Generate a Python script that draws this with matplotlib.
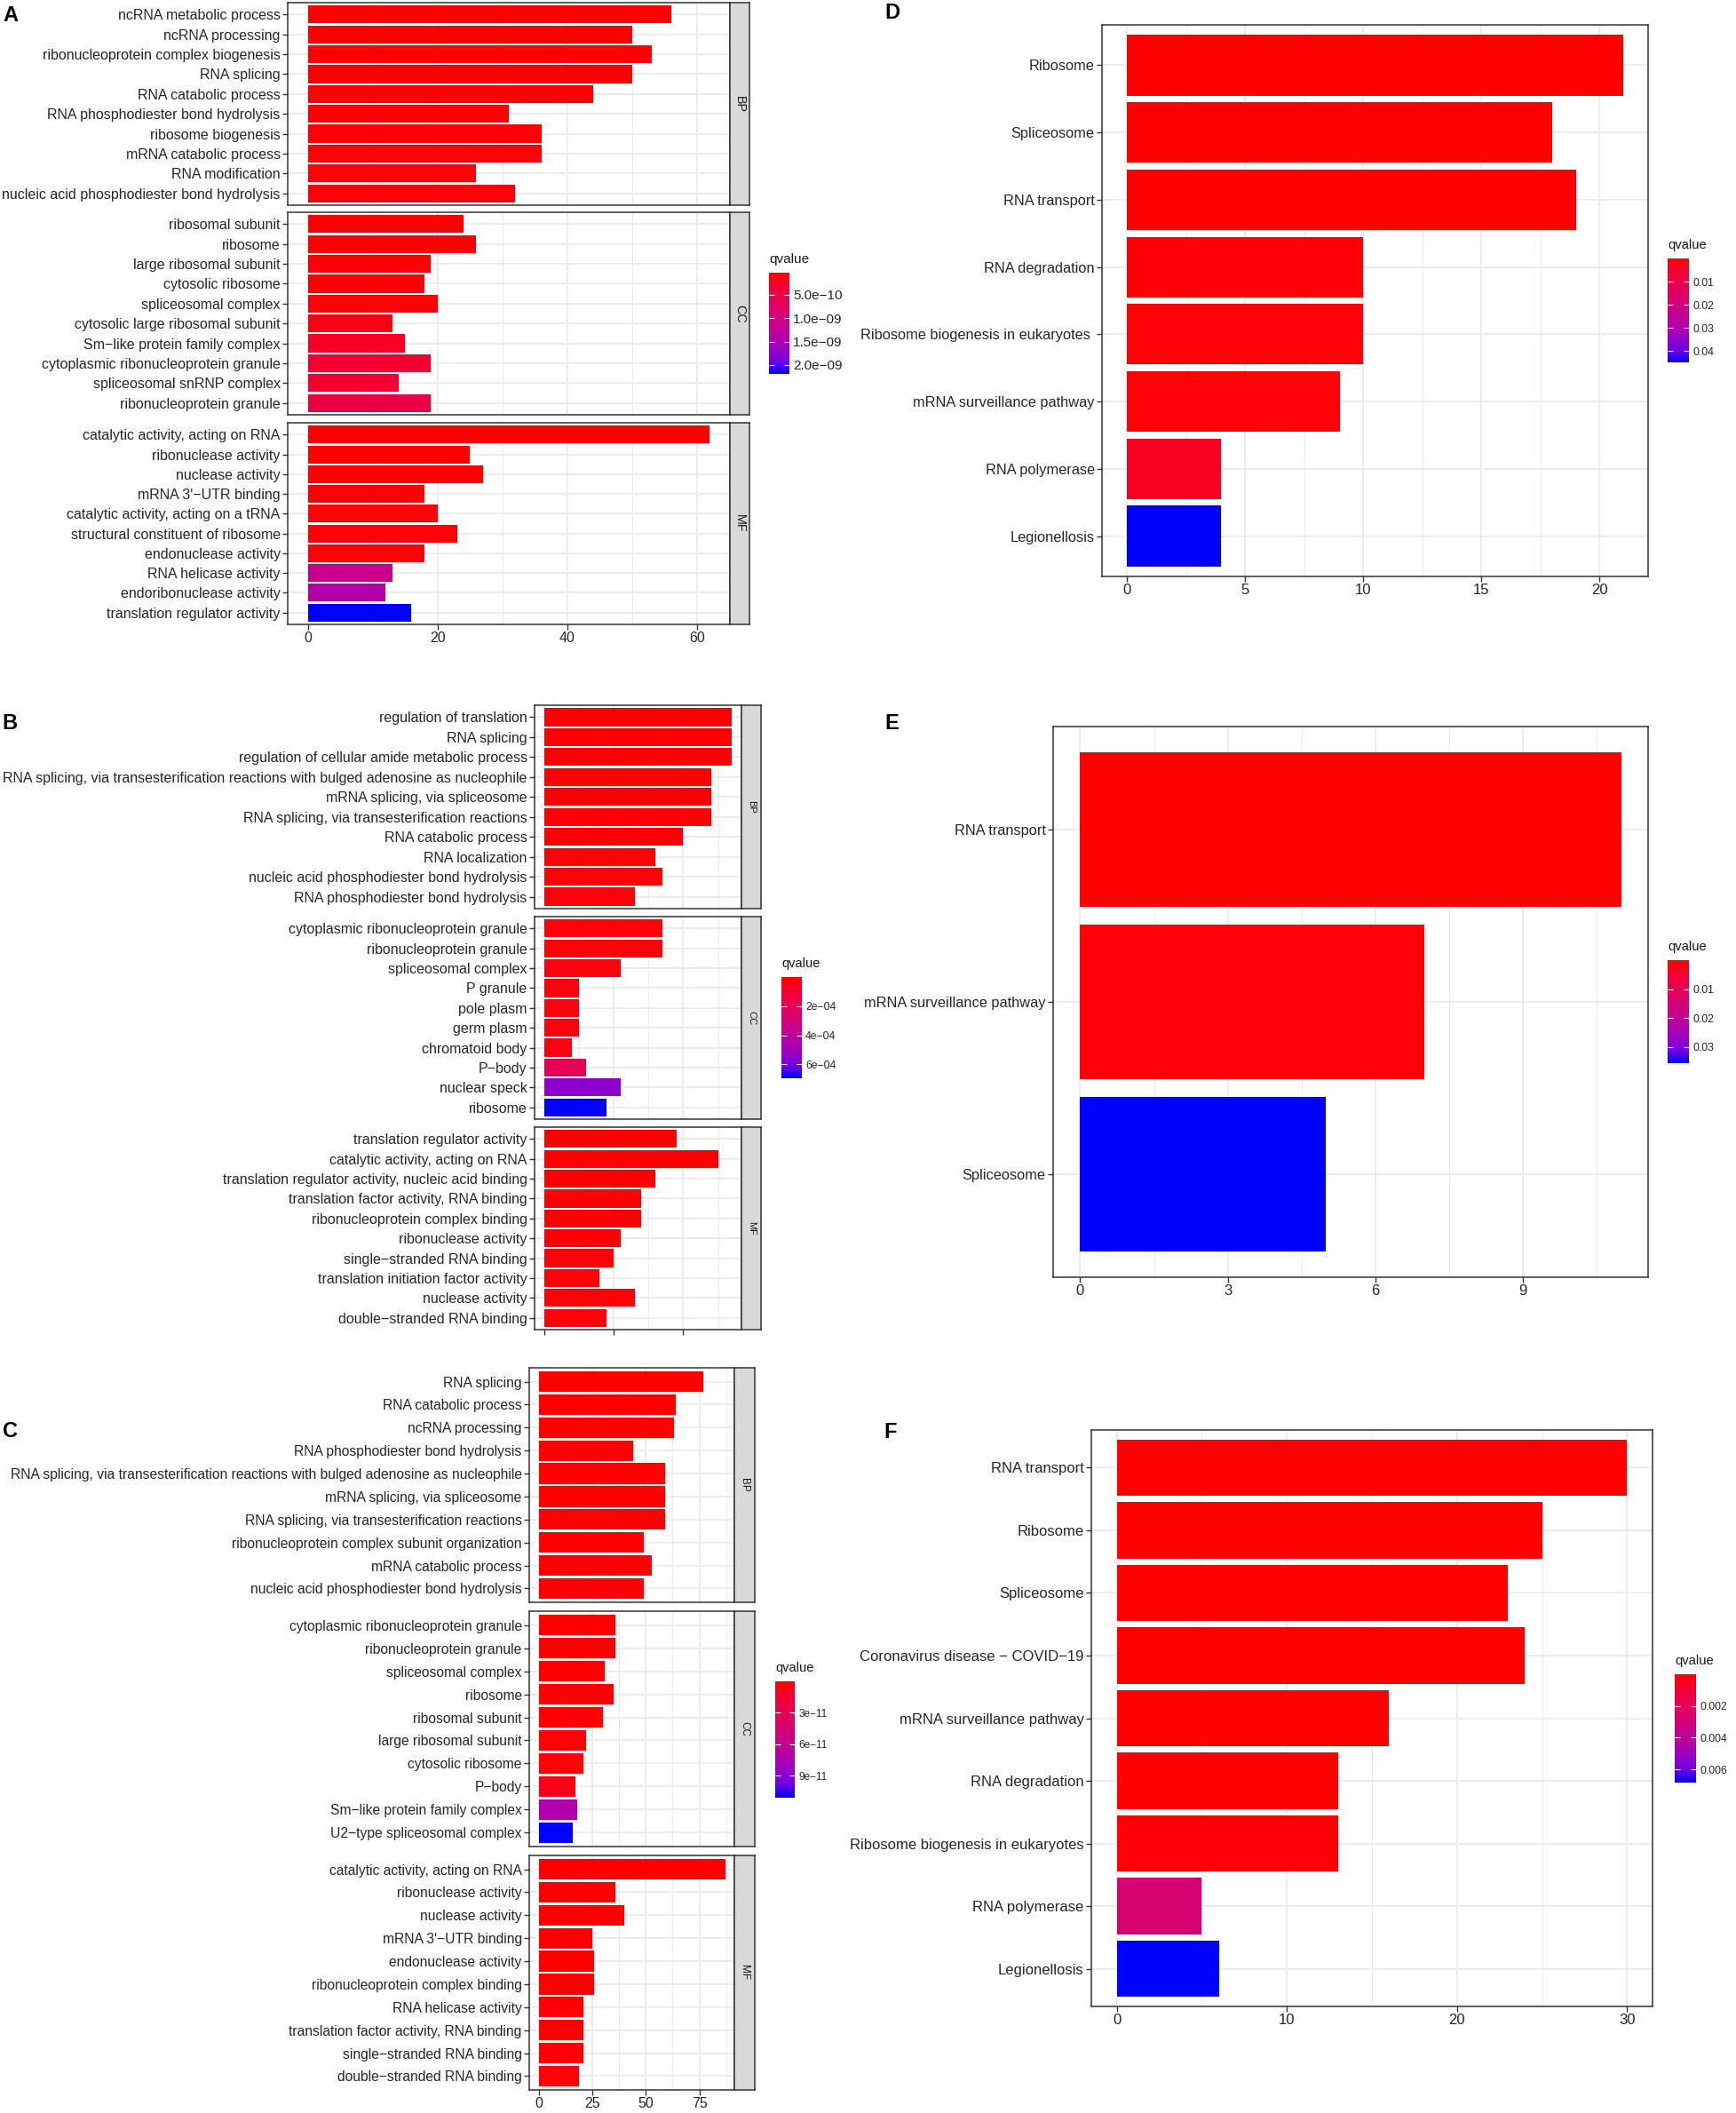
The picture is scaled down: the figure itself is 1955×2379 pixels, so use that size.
import numpy as np
import matplotlib
matplotlib.use("Agg")
import matplotlib.pyplot as plt
from matplotlib.colors import LinearSegmentedColormap, Normalize
from matplotlib.colorbar import ColorbarBase

plt.rcParams['font.family'] = ['Liberation Sans', 'DejaVu Sans']

W, H = 1955, 2379
M = '\u2212'

# === A: GO enrichment ===
a_bp_terms = ["ncRNA metabolic process", "ncRNA processing", "ribonucleoprotein complex biogenesis",
              "RNA splicing", "RNA catabolic process", "RNA phosphodiester bond hydrolysis",
              "ribosome biogenesis", "mRNA catabolic process", "RNA modification",
              "nucleic acid phosphodiester bond hydrolysis"]
a_bp_counts = [56, 50, 53, 50, 44, 31, 36, 36, 26, 32]
a_bp_q = [3e-11, 3.2e-11, 3.5e-11, 4e-11, 4.5e-11, 5e-11, 5e-11, 6e-11, 7e-11, 8e-11]
a_cc_terms = ["ribosomal subunit", "ribosome", "large ribosomal subunit", "cytosolic ribosome",
              "spliceosomal complex", "cytosolic large ribosomal subunit",
              f"Sm{M}like protein family complex", "cytoplasmic ribonucleoprotein granule",
              "spliceosomal snRNP complex", "ribonucleoprotein granule"]
a_cc_counts = [24, 26, 19, 18, 20, 13, 15, 19, 14, 19]
a_cc_q = [4e-11, 4e-11, 5e-11, 5e-11, 6e-11, 1.4e-10, 2.4e-10, 2.9e-10, 2.9e-10, 4.8e-10]
a_mf_terms = ["catalytic activity, acting on RNA", "ribonuclease activity", "nuclease activity",
              f"mRNA 3'{M}UTR binding", "catalytic activity, acting on a tRNA",
              "structural constituent of ribosome", "endonuclease activity", "RNA helicase activity",
              "endoribonuclease activity", "translation regulator activity"]
a_mf_counts = [62, 25, 27, 18, 20, 23, 18, 13, 12, 16]
a_mf_q = [2.8e-11, 3e-11, 4e-11, 5e-11, 6e-11, 6e-11, 7e-11, 1.15e-9, 1.41e-9, 2.19e-9]
a_xticks = [0, 20, 40, 60]
a_cb_ticks = [5e-10, 1e-9, 1.5e-9, 2e-9]
a_cb_labels = [f"5.0e{M}10", f"1.0e{M}09", f"1.5e{M}09", f"2.0e{M}09"]

# === B ===
b_bp_terms = ["regulation of translation", "RNA splicing", "regulation of cellular amide metabolic process",
              "RNA splicing, via transesterification reactions with bulged adenosine as nucleophile",
              "mRNA splicing, via spliceosome", "RNA splicing, via transesterification reactions",
              "RNA catabolic process", "RNA localization", "nucleic acid phosphodiester bond hydrolysis",
              "RNA phosphodiester bond hydrolysis"]
b_bp_counts = [27, 27, 27, 24, 24, 24, 20, 16, 17, 13]
b_bp_q = [2e-6, 1e-6, 3e-6, 5e-6, 6e-6, 7e-6, 8e-6, 1e-5, 1.2e-5, 1.5e-5]
b_cc_terms = ["cytoplasmic ribonucleoprotein granule", "ribonucleoprotein granule", "spliceosomal complex",
              "P granule", "pole plasm", "germ plasm", "chromatoid body", f"P{M}body", "nuclear speck",
              "ribosome"]
b_cc_counts = [17, 17, 11, 5, 5, 5, 4, 6, 11, 9]
b_cc_q = [1e-5, 1.2e-5, 2e-5, 2.5e-5, 2.5e-5, 2.5e-5, 3e-5, 1.9e-4, 5.5e-4, 6.95e-4]
b_mf_terms = ["translation regulator activity", "catalytic activity, acting on RNA",
              "translation regulator activity, nucleic acid binding", "translation factor activity, RNA binding",
              "ribonucleoprotein complex binding", "ribonuclease activity", f"single{M}stranded RNA binding",
              "translation initiation factor activity", "nuclease activity", f"double{M}stranded RNA binding"]
b_mf_counts = [19, 25, 16, 14, 14, 11, 10, 8, 13, 9]
b_mf_q = [3e-6, 4e-6, 5e-6, 6e-6, 7e-6, 9e-6, 1e-5, 1.2e-5, 1.4e-5, 1.6e-5]
b_xticks = [0, 10, 20]
b_cb_ticks = [2e-4, 4e-4, 6e-4]
b_cb_labels = [f"2e{M}04", f"4e{M}04", f"6e{M}04"]

# === C ===
c_bp_terms = ["RNA splicing", "RNA catabolic process", "ncRNA processing", "RNA phosphodiester bond hydrolysis",
              "RNA splicing, via transesterification reactions with bulged adenosine as nucleophile",
              "mRNA splicing, via spliceosome", "RNA splicing, via transesterification reactions",
              "ribonucleoprotein complex subunit organization", "mRNA catabolic process",
              "nucleic acid phosphodiester bond hydrolysis"]
c_bp_counts = [77, 64, 63, 44, 59, 59, 59, 49, 53, 49]
c_bp_q = [1e-13, 2e-13, 3e-13, 4e-13, 5e-13, 6e-13, 7e-13, 8e-13, 9e-13, 1e-12]
c_cc_terms = ["cytoplasmic ribonucleoprotein granule", "ribonucleoprotein granule", "spliceosomal complex",
              "ribosome", "ribosomal subunit", "large ribosomal subunit", "cytosolic ribosome", f"P{M}body",
              f"Sm{M}like protein family complex", f"U2{M}type spliceosomal complex"]
c_cc_counts = [36, 36, 31, 35, 30, 22, 21, 17, 18, 16]
c_cc_q = [5e-13, 6e-13, 8e-13, 1e-12, 1.2e-12, 1.5e-12, 1.8e-12, 7e-12, 7.2e-11, 1.108e-10]
c_mf_terms = ["catalytic activity, acting on RNA", "ribonuclease activity", "nuclease activity",
              f"mRNA 3'{M}UTR binding", "endonuclease activity", "ribonucleoprotein complex binding",
              "RNA helicase activity", "translation factor activity, RNA binding",
              f"single{M}stranded RNA binding", f"double{M}stranded RNA binding"]
c_mf_counts = [87, 36, 40, 25, 26, 26, 21, 21, 21, 19]
c_mf_q = [2e-13, 3e-13, 4e-13, 6e-13, 7e-13, 8e-13, 1e-12, 1.1e-12, 1.2e-12, 1.4e-12]
c_xticks = [0, 25, 50, 75]
c_cb_ticks = [3e-11, 6e-11, 9e-11]
c_cb_labels = [f"3e{M}11", f"6e{M}11", f"9e{M}11"]

# === D, E, F: KEGG ===
d_terms = ["Ribosome", "Spliceosome", "RNA transport", "RNA degradation",
           "Ribosome biogenesis in eukaryotes ", "mRNA surveillance pathway", "RNA polymerase", "Legionellosis"]
d_counts = [21, 18, 19, 10, 10, 9, 4, 4]
d_q = [1e-5, 2e-5, 3e-5, 5e-4, 6e-4, 8e-4, 3.6e-3, 0.0449]
d_xticks = [0, 5, 10, 15, 20]
d_cb_ticks = [0.01, 0.02, 0.03, 0.04]
d_cb_labels = ["0.01", "0.02", "0.03", "0.04"]

e_terms = ["RNA transport", "mRNA surveillance pathway", "Spliceosome"]
e_counts = [11, 7, 5]
e_q = [1e-5, 5e-4, 0.0356]
e_xticks = [0, 3, 6, 9]
e_cb_ticks = [0.01, 0.02, 0.03]
e_cb_labels = ["0.01", "0.02", "0.03"]

f_terms = ["RNA transport", "Ribosome", "Spliceosome", f"Coronavirus disease {M} COVID{M}19",
           "mRNA surveillance pathway", "RNA degradation", "Ribosome biogenesis in eukaryotes",
           "RNA polymerase", "Legionellosis"]
f_counts = [30, 25, 23, 24, 16, 13, 13, 5, 6]
f_q = [1e-6, 2e-6, 3e-6, 5e-6, 1e-5, 5e-5, 6e-5, 2.7e-3, 6.83e-3]
f_xticks = [0, 10, 20, 30]
f_cb_ticks = [0.002, 0.004, 0.006]
f_cb_labels = ["0.002", "0.004", "0.006"]

# ggplot-like red -> blue gradient (Lab interpolation)
CMAP = LinearSegmentedColormap.from_list("rb", [
    (0.0, "#FF0000"), (0.125, "#F40031"), (0.25, "#E8004F"), (0.375, "#DA006C"),
    (0.5, "#C90088"), (0.625, "#B500A5"), (0.75, "#9A00C3"), (0.875, "#7300E0"), (1.0, "#0000FF")])

TXT = "#262626"
GRID = "#EBEBEB"
DARK = "#333333"

fig = plt.figure(figsize=(W / 100, H / 100), dpi=100)


def rect(x0, y0, x1, y1):
    return [x0 / W, 1 - y1 / H, (x1 - x0) / W, (y1 - y0) / H]


def bars(ax, terms, counts, q, norm, xmax, xticks, fs, bottom=True, xlabels=True, tfs=11.5):
    n = len(terms)
    ypos = np.arange(n, 0, -1)
    ax.barh(ypos, counts, height=0.9, color=CMAP(norm(np.array(q))), zorder=3)
    ax.set_ylim(0.4, n + 0.6)
    ax.set_xlim(-0.05 * xmax, 1.05 * xmax)
    ax.set_yticks(ypos)
    ax.set_yticklabels(terms, fontsize=fs, color=TXT)
    step = xticks[1] - xticks[0]
    minor = [v for v in np.arange(xticks[0] - step / 2, 1.05 * xmax, step) if v > -0.05 * xmax]
    ax.set_xticks(xticks)
    ax.set_xticks(minor, minor=True)
    ax.grid(which="major", color=GRID, lw=1.3, zorder=0)
    ax.grid(which="minor", axis="x", color=GRID, lw=0.7, zorder=0)
    ax.set_axisbelow(True)
    for s in ax.spines.values():
        s.set_color(DARK)
        s.set_linewidth(1.1)
    ax.tick_params(axis="y", which="major", length=4, width=1, color=DARK, pad=2)
    ax.tick_params(which="minor", length=0)
    if bottom:
        ax.tick_params(axis="x", which="major", length=4, width=1, color=DARK, pad=2,
                       labelsize=tfs, labelcolor=TXT, labelbottom=xlabels)
    else:
        ax.tick_params(axis="x", which="major", length=0, labelbottom=False)


def strip(x0, y0, x1, y1, label, fs):
    sa = fig.add_axes(rect(x0, y0, x1, y1))
    sa.set_facecolor("#D9D9D9")
    sa.set_xticks([])
    sa.set_yticks([])
    for s in sa.spines.values():
        s.set_color(DARK)
        s.set_linewidth(1.1)
    sa.text(0.5, 0.5, label, rotation=-90, ha="center", va="center", fontsize=fs,
            color="#1A1A1A", transform=sa.transAxes)


def colorbar(x0, y0, x1, y1, norm, ticks, labels, fs, tfs):
    cax = fig.add_axes(rect(x0, y0, x1, y1))
    cb = ColorbarBase(cax, cmap=CMAP, norm=norm, orientation="vertical")
    cb.outline.set_visible(False)
    cax.invert_yaxis()
    cb.set_ticks(ticks)
    cb.set_ticklabels(labels)
    cax.minorticks_off()
    cax.tick_params(which="major", direction="in", left=True, right=True, color="white",
                    length=4, width=0.8, labelsize=fs, labelcolor=TXT, pad=3)
    fig.text(x0 / W, 1 - (y0 - 8) / H, "qvalue", fontsize=tfs, color="#1A1A1A", ha="left", va="bottom")


def letter(x, y, s):
    fig.text(x / W, 1 - y / H, s, fontsize=17, fontweight="bold", ha="left", va="top")


def facet_panel(ax_x, strip_x, rows, facets, xmax, xticks, fs, sfs, xlabels, cb_box, cb_ticks,
                cb_labels, cfs, tfs):
    allq = np.concatenate([np.array(f[2]) for f in facets])
    norm = Normalize(vmin=allq.min(), vmax=allq.max())
    for i, ((y0, y1), (terms, counts, q, name)) in enumerate(zip(rows, facets)):
        ax = fig.add_axes(rect(ax_x[0], y0, ax_x[1], y1))
        bars(ax, terms, counts, q, norm, xmax, xticks, fs, bottom=(i == len(rows) - 1), xlabels=xlabels)
        strip(strip_x[0], y0, strip_x[1], y1, name, sfs)
    colorbar(*cb_box, norm, cb_ticks, cb_labels, cfs, tfs)


def single_panel(box, terms, counts, q, xmax, xticks, fs, cb_box, cb_ticks, cb_labels, cfs, tfs):
    norm = Normalize(vmin=min(q), vmax=max(q))
    ax = fig.add_axes(rect(*box))
    bars(ax, terms, counts, q, norm, xmax, xticks, fs, tfs=12)
    colorbar(*cb_box, norm, cb_ticks, cb_labels, cfs, tfs)


# A
facet_panel((324, 822), (822, 844), [(3, 231), (239, 467), (476, 703)],
            [(a_bp_terms, a_bp_counts, a_bp_q, "BP"), (a_cc_terms, a_cc_counts, a_cc_q, "CC"),
             (a_mf_terms, a_mf_counts, a_mf_q, "MF")],
            max(a_bp_counts + a_cc_counts + a_mf_counts), a_xticks, 11.5, 10.4, True,
            (866, 307, 889, 421), a_cb_ticks, a_cb_labels, 11, 11)
letter(3, 6, "A")

# B
facet_panel((602, 835), (835, 857), [(794, 1023), (1032, 1260), (1269, 1497)],
            [(b_bp_terms, b_bp_counts, b_bp_q, "BP"), (b_cc_terms, b_cc_counts, b_cc_q, "CC"),
             (b_mf_terms, b_mf_counts, b_mf_q, "MF")],
            max(b_bp_counts + b_cc_counts + b_mf_counts), b_xticks, 11.5, 8, False,
            (880, 1100, 903, 1214), b_cb_ticks, b_cb_labels, 8.7, 10.5)
letter(2, 803, "B")

# C
facet_panel((596, 827), (827, 850), [(1540, 1804), (1814, 2079), (2089, 2353)],
            [(c_bp_terms, c_bp_counts, c_bp_q, "BP"), (c_cc_terms, c_cc_counts, c_cc_q, "CC"),
             (c_mf_terms, c_mf_counts, c_mf_q, "MF")],
            max(c_bp_counts + c_cc_counts + c_mf_counts), c_xticks, 11.25, 8.5, True,
            (873, 1893, 895, 2024), c_cb_ticks, c_cb_labels, 8.5, 10.5)
letter(3, 1600, "C")

# D
single_panel((1241, 28, 1856, 649), d_terms, d_counts, d_q, max(d_counts), d_xticks, 11.8,
             (1878, 291, 1902, 408), d_cb_ticks, d_cb_labels, 8.7, 10.6)
letter(996, 3, "D")

# E
single_panel((1186, 818, 1856, 1438), e_terms, e_counts, e_q, max(e_counts), e_xticks, 11.8,
             (1878, 1081, 1902, 1197), e_cb_ticks, e_cb_labels, 8.7, 10.6)
letter(996, 803, "E")

# F
single_panel((1229, 1610, 1861, 2259), f_terms, f_counts, f_q, max(f_counts), f_xticks, 12,
             (1886, 1885, 1910, 2007), f_cb_ticks, f_cb_labels, 8.7, 10.6)
letter(995, 1601, "F")

fig.savefig("out.png", dpi=100, facecolor="white")
